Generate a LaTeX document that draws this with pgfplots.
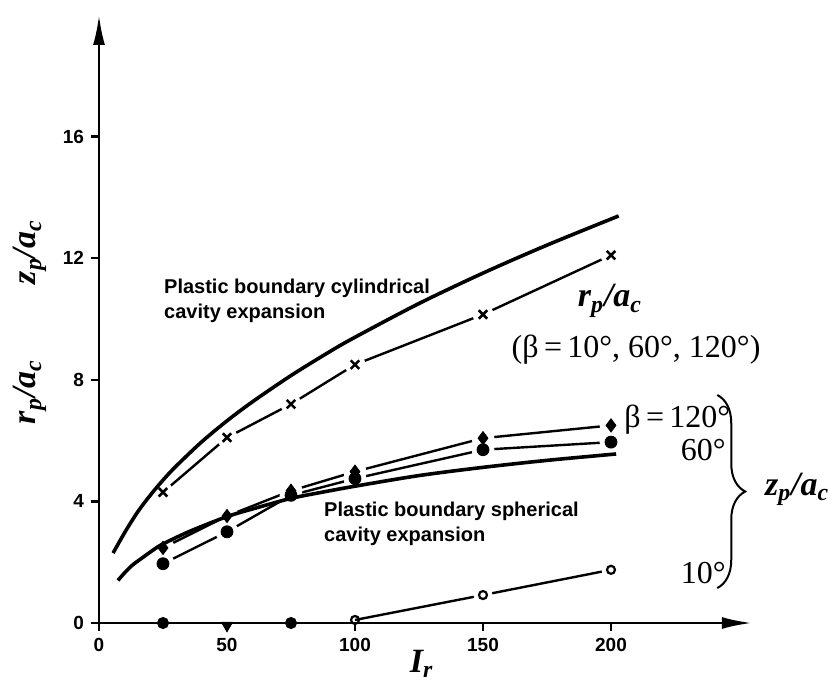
\documentclass[border=0pt]{standalone}
\usepackage{fontspec}
\setmainfont{Liberation Sans}
\newfontfamily\tnr{Liberation Serif}
\usepackage{pgfplots}
\pgfplotsset{compat=1.18}
\usetikzlibrary{arrows.meta,decorations.pathreplacing}
\newcommand{\ratio}[4]{{\tnr\bfseries\itshape\fontsize{17}{19}\selectfont #1\textsubscript{#2}/#3\textsubscript{#4}}}
\begin{document}
\begin{tikzpicture}
\begin{axis}[
  x=1.28pt, y=15.2pt,
  xmin=0, xmax=255, ymin=0, ymax=20,
  axis lines=left,
  axis line style={line width=1.3pt, -{Latex[length=15pt,width=6pt]}},
  xtick={0,50,100,150,200}, ytick={0,4,8,12,16},
  tick align=outside, major tick length=4pt,
  tick style={line width=1.1pt, black},
  tick label style={font=\bfseries\fontsize{9.5}{11}\selectfont},
  /pgf/number format/assume math mode=true,
  clip=false,
  clip marker paths=true,
  axis on top,
]
% series lines (r_p/a_c and z_p/a_c)
\addplot[line width=1.2pt] coordinates {(25,4.3)(50,6.1)(75,7.2)(100,8.5)(150,10.15)(200,12.1)};
\addplot[line width=1.2pt] coordinates {(25,2.47)(50,3.52)(75,4.35)(100,4.98)(150,6.08)(200,6.5)};
\addplot[line width=1.2pt] coordinates {(25,1.95)(50,3.0)(75,4.2)(100,4.75)(150,5.7)(200,5.95)};
\addplot[line width=1.2pt] coordinates {(100,0.1)(150,0.92)(200,1.75)};
% white halos (gaps around markers)
\addplot[only marks, mark=*, mark size=5pt, mark options={draw=white, fill=white}] coordinates {(25,4.3)(50,6.1)(75,7.2)(100,8.5)(150,10.15)(200,12.1)};
\addplot[only marks, mark=*, mark size=5.5pt, mark options={draw=white, fill=white}] coordinates {(25,2.47)(50,3.52)(75,4.35)(100,4.98)(150,6.08)(200,6.5)};
\addplot[only marks, mark=*, mark size=5.5pt, mark options={draw=white, fill=white}] coordinates {(25,1.95)(50,3.0)(75,4.2)(100,4.75)(150,5.7)(200,5.95)};
\addplot[only marks, mark=*, mark size=4.5pt, mark options={draw=white, fill=white}] coordinates {(150,0.92)(200,1.75)};
% plastic boundary curves
\addplot[line width=1.8pt, smooth] coordinates {(5.5,2.3)(10,2.97)(15,3.64)(20,4.2)(25,4.7)(30,5.15)(40,5.95)(50,6.65)(60,7.28)(75,8.14)(90,8.92)(100,9.4)(125,10.51)(150,11.51)(175,12.43)(203,13.39)};
\addplot[line width=1.8pt, smooth] coordinates {(7.4,1.4)(10,1.65)(13,1.9)(17,2.15)(22,2.45)(25,2.6)(35,3.0)(50,3.5)(62,3.8)(75,4.1)(87,4.3)(100,4.5)(125,4.85)(150,5.12)(175,5.35)(202,5.56)};
% markers
\addplot[only marks, mark=x, mark size=3pt, mark options={line width=1.3pt}] coordinates {(25,4.3)(50,6.1)(75,7.2)(100,8.5)(150,10.15)(200,12.1)};
\addplot[only marks, mark=diamond*, mark size=3.3pt] coordinates {(25,2.47)(50,3.52)(75,4.35)(100,4.98)(150,6.08)(200,6.5)};
\addplot[only marks, mark=*, mark size=3pt] coordinates {(25,1.95)(50,3.0)(75,4.2)(100,4.75)(150,5.7)(200,5.95)};
\addplot[only marks, mark=*, mark size=2.8pt] coordinates {(25,0)(75,0)};
\addplot[only marks, mark=triangle*, mark size=3.2pt, mark options={rotate=180}] coordinates {(50,-0.08)};
\addplot[only marks, mark=o, mark size=2pt, mark options={line width=1.1pt, fill=white}] coordinates {(100,0.1)(150,0.92)(200,1.75)};
% annotations
\node[anchor=west, align=left, font=\bfseries\fontsize{10}{12.5}\selectfont] at (axis cs:22.7,10.6) {Plastic boundary cylindrical\\cavity expansion};
\node[anchor=west, align=left, font=\bfseries\fontsize{10}{12.5}\selectfont] at (axis cs:85.2,3.26) {Plastic boundary spherical\\cavity expansion};
\node at (axis cs:199.6,10.6) {\ratio{r}{p}{a}{c}};
\node at (axis cs:209.8,9.0) {\tnr\fontsize{16}{18}\selectfont (β\,=\,10°, 60°, 120°)};
\node[anchor=west, inner sep=1pt] at (axis cs:204.3,6.68) {\tnr\fontsize{16}{18}\selectfont β\,=\,120°};
\node at (axis cs:236,5.7) {\tnr\fontsize{16}{18}\selectfont 60°};
\node at (axis cs:236,1.64) {\tnr\fontsize{16}{18}\selectfont 10°};
\draw[line width=1pt, decorate, decoration={brace, amplitude=14pt}] (axis cs:241.5,7.5) -- (axis cs:241.5,1.15);
\node at (axis cs:272.7,4.4) {\ratio{z}{p}{a}{c}};
\node[rotate=90] at (axis cs:-27,12.2) {\ratio{z}{p}{a}{c}};
\node[rotate=90] at (axis cs:-27,7.6) {\ratio{r}{p}{a}{c}};
\node at (axis cs:126,-1.35) {{\tnr\bfseries\itshape\fontsize{17}{19}\selectfont I\textsubscript{r}}};
\coordinate (O) at (axis cs:0,0);
\end{axis}
\pgfresetboundingbox
\path[use as bounding box] ([shift={(-49.5pt,-31.5pt)}]O) rectangle ([shift={(370pt,311.5pt)}]O);
\end{tikzpicture}
\end{document}
